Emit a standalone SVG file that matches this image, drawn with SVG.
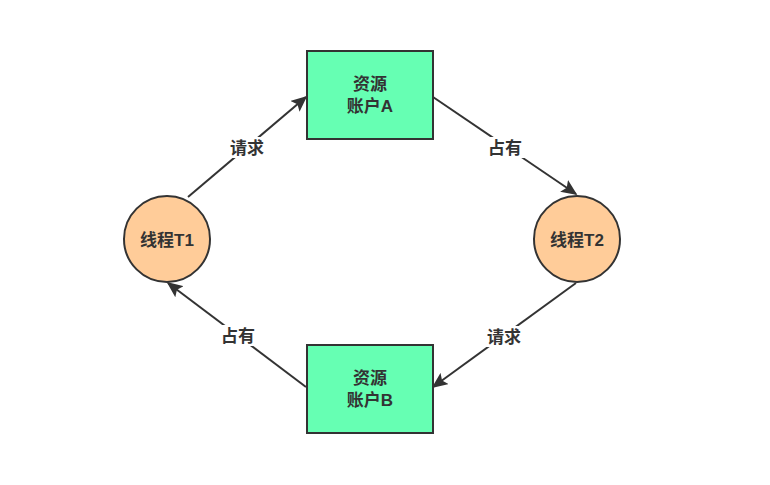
<svg xmlns="http://www.w3.org/2000/svg" width="770" height="485" viewBox="0 0 770 485">
<style>
.box{fill:#66ffb3;stroke:#333;stroke-width:2}
.th{fill:#ffcc99;stroke:#333;stroke-width:2}
.t{font-family:"Liberation Sans","Noto Sans CJK SC",sans-serif;font-size:17px;font-weight:bold;fill:#333;text-anchor:middle;dominant-baseline:central}
.c{stroke:#333;stroke-width:2;fill:none;marker-end:url(#a)}
.lb{fill:#fff}
</style>
<defs>
<marker id="a" viewBox="0 0 10 10" refX="9" refY="5" markerWidth="16" markerHeight="14" markerUnits="userSpaceOnUse" orient="auto" preserveAspectRatio="none"><path d="M0,0L10,5L0,10L2,5Z" fill="#333"/></marker>
</defs>
<rect width="770" height="485" fill="#fff"/>
<g id="connectors">
<line class="c" x1="188" y1="197" x2="306" y2="97"/>
<line class="c" x1="433" y1="97" x2="576" y2="194"/>
<line class="c" x1="576" y1="283" x2="433" y2="387"/>
<line class="c" x1="306" y1="387" x2="168" y2="283"/>
<rect class="lb" x="225" y="137" width="44" height="21"/>
<text class="t" x="247" y="148">请求</text>
<rect class="lb" x="483" y="137" width="44" height="21"/>
<text class="t" x="505" y="148">占有</text>
<rect class="lb" x="482" y="326" width="44" height="21"/>
<text class="t" x="504" y="337">请求</text>
<rect class="lb" x="216" y="325" width="44" height="21"/>
<text class="t" x="238" y="336">占有</text>
</g>
<g id="resA">
<rect class="box" x="307" y="51" width="126" height="88"/>
<text class="t" x="370" y="84">资源</text>
<text class="t" x="370" y="106">账户A</text>
</g>
<g id="resB">
<rect class="box" x="307" y="345" width="126" height="88"/>
<text class="t" x="370" y="378">资源</text>
<text class="t" x="370" y="400">账户B</text>
</g>
<g id="T1">
<circle class="th" cx="167" cy="239" r="43"/>
<text class="t" x="167" y="240">线程T1</text>
</g>
<g id="T2">
<circle class="th" cx="577" cy="239" r="43"/>
<text class="t" x="577" y="240">线程T2</text>
</g>
</svg>
